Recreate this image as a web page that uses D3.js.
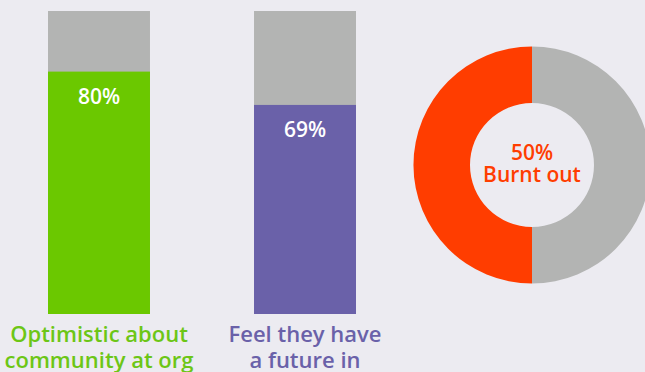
<!DOCTYPE html>
<html>
<head>
<meta charset="utf-8">
<script src="https://cdn.jsdelivr.net/npm/d3@7"></script>
<style>
  body { margin: 0; background: #ecebf1; }
  svg { display: block; font-family: "Open Sans", sans-serif; }
</style>
</head>
<body>
<div id="chart"></div>
<script>
// data
var barCategories = ["Optimistic", "Future"];
var barValues = [80, 69];
var barLabels = [["Optimistic about", "community at org"], ["Feel they have", "a future in"]];
var barColors = ["#6bc800", "#6a61a9"];
var textColors = ["#6cc616", "#6a61a9"];

var donutCategories = ["Not burnt out", "Burnt out"];
var donutValues = [50, 50];
var donutLabel = ["50%", "Burnt out"];

var width = 645, height = 372;

var svg = d3.select("#chart")
    .append("svg")
    .attr("width", width)
    .attr("height", height);

svg.append("rect")
    .attr("width", width)
    .attr("height", height)
    .attr("fill", "#ecebf1");

// scales for the bars
var x = d3.scaleBand()
    .domain(barCategories)
    .range([48, 356])
    .paddingInner(0.505)
    .paddingOuter(0);

var y = d3.scaleLinear()
    .domain([0, 100])
    .range([314, 11]);

var bars = svg.append("g")
    .selectAll("g")
    .data(barCategories)
    .enter()
    .append("g");

// gray background (100%)
bars.append("rect")
    .attr("x", function (d) { return x(d); })
    .attr("width", x.bandwidth())
    .attr("y", y(100))
    .attr("height", y(0) - y(100))
    .attr("fill", "#b3b4b3");

// value bar
bars.append("rect")
    .attr("x", function (d) { return x(d); })
    .attr("width", x.bandwidth())
    .attr("y", function (d, i) { return y(barValues[i]); })
    .attr("height", function (d, i) { return y(0) - y(barValues[i]); })
    .attr("fill", function (d, i) { return barColors[i]; });

bars.append("text")
    .attr("x", function (d) { return x(d) + x.bandwidth() / 2; })
    .attr("y", function (d, i) { return y(barValues[i]) + 32; })
    .attr("text-anchor", "middle")
    .attr("fill", "#ffffff")
    .style("font-size", "21px")
    .style("font-weight", 600)
    .text(function (d, i) { return barValues[i] + "%"; });

// category labels under bars
bars.append("text")
    .attr("text-anchor", "middle")
    .attr("fill", function (d, i) { return textColors[i]; })
    .style("font-size", "22px")
    .style("font-weight", 600)
    .selectAll("tspan")
    .data(function (d, i) { return barLabels[i].map(function (t) { return { t: t, c: d }; }); })
    .enter()
    .append("tspan")
    .attr("x", function (d) { return x(d.c) + x.bandwidth() / 2; })
    .attr("y", function (d, j) { return 342 + j * 26; })
    .text(function (d) { return d.t; });

// donut
var cx = 532, cy = 165;
var pie = d3.pie().sort(null);
var arc = d3.arc().innerRadius(62).outerRadius(118.5);
var donutColors = d3.scaleOrdinal()
    .domain(donutCategories)
    .range(["#b3b4b3", "#ff3d00"]);

var donut = svg.append("g")
    .attr("transform", "translate(" + cx + "," + cy + ")");

donut.selectAll("path")
    .data(pie(donutValues))
    .enter()
    .append("path")
    .attr("d", arc)
    .attr("fill", function (d, i) { return donutColors(donutCategories[i]); });

donut.append("text")
    .attr("text-anchor", "middle")
    .attr("fill", "#ff3d00")
    .style("font-size", "21px")
    .style("font-weight", 600)
    .selectAll("tspan")
    .data(donutLabel)
    .enter()
    .append("tspan")
    .attr("x", 0)
    .attr("y", function (d, i) { return -5 + i * 22; })
    .text(function (d) { return d; });
</script>
</body>
</html>
